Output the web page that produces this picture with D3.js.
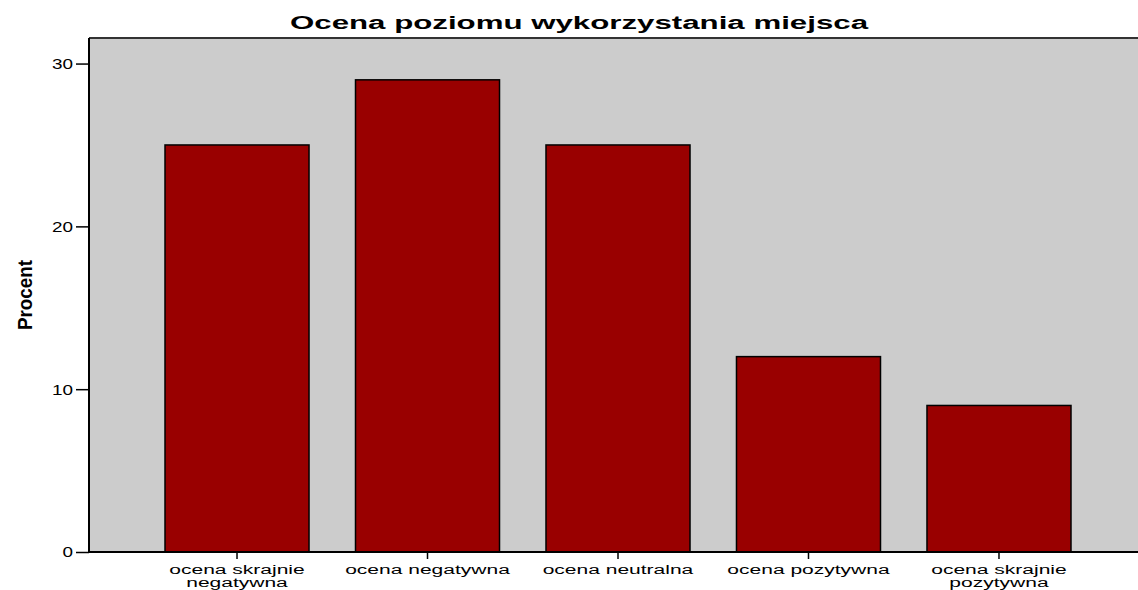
<!DOCTYPE html>
<html>
<head>
<meta charset="utf-8">
<script src="https://cdn.jsdelivr.net/npm/d3@7"></script>
<style>
  body { margin: 0; background: #fff; }
  svg { display: block; }
  text { font-family: "Liberation Sans", Arial, sans-serif; }
</style>
</head>
<body>
<script>
// data
const categories = ["ocena skrajnie negatywna", "ocena negatywna", "ocena neutralna",
                    "ocena pozytywna", "ocena skrajnie pozytywna"];
const values = [25, 29, 25, 12, 9];
const yTicks = [0, 10, 20, 30];
const title = "Ocena poziomu wykorzystania miejsca";
const yTitle = "Procent";

const width = 1138, height = 590;
const plot = {left: 89, right: 1147, top: 38, bottom: 552};

const svg = d3.select("body").append("svg")
  .attr("width", width)
  .attr("height", height);

const x = d3.scaleBand()
  .domain(categories)
  .range([plot.left, plot.right])
  .paddingInner(0.244)
  .paddingOuter(0.399);

const y = d3.scaleLinear()
  .domain([0, 31.57])
  .range([plot.bottom, plot.top]);

// stretch text horizontally, the original fonts are very wide
function stretch(sel, k) {
  sel.each(function() {
    const w = this.getComputedTextLength();
    d3.select(this).attr("textLength", w * k).attr("lengthAdjust", "spacingAndGlyphs");
  });
}

// plot background
svg.append("rect")
  .attr("x", plot.left)
  .attr("y", plot.top)
  .attr("width", plot.right - plot.left)
  .attr("height", plot.bottom - plot.top)
  .attr("fill", "#cccccc");

svg.append("line")
  .attr("x1", plot.left).attr("x2", plot.right)
  .attr("y1", plot.top).attr("y2", plot.top)
  .attr("stroke", "#333")
  .attr("stroke-width", 2);

// bars
svg.append("g").selectAll("rect")
  .data(values)
  .join("rect")
  .attr("x", (d, i) => x(categories[i]))
  .attr("y", d => y(d))
  .attr("width", x.bandwidth())
  .attr("height", d => y(0) - y(d))
  .attr("fill", "#990000")
  .attr("stroke", "#000")
  .attr("stroke-width", 1.5);

// y axis
const yAxis = svg.append("g")
  .attr("transform", "translate(" + plot.left + ",0)")
  .call(d3.axisLeft(y).tickValues(yTicks).tickSize(13).tickSizeOuter(0).tickPadding(3));
yAxis.select(".domain").remove();
yAxis.selectAll(".tick line").attr("stroke", "#000").attr("stroke-width", 1.5);
yAxis.selectAll(".tick text")
  .attr("font-size", 14)
  .attr("fill", "#000")
  .attr("dy", "0.35em")
  .call(stretch, 1.35);

svg.append("line")
  .attr("x1", plot.left).attr("x2", plot.left)
  .attr("y1", plot.top).attr("y2", plot.bottom + 1)
  .attr("stroke", "#000")
  .attr("stroke-width", 2);

// x axis
const xAxis = svg.append("g")
  .attr("transform", "translate(0," + plot.bottom + ")")
  .call(d3.axisBottom(x).tickSize(7).tickSizeOuter(0).tickFormat(""));
xAxis.select(".domain").remove();
xAxis.selectAll(".tick line").attr("stroke", "#000").attr("stroke-width", 1.5);

svg.append("line")
  .attr("x1", plot.left).attr("x2", plot.right)
  .attr("y1", plot.bottom).attr("y2", plot.bottom)
  .attr("stroke", "#000")
  .attr("stroke-width", 2);

// category labels, three-word labels wrap after the second word
categories.forEach(c => {
  const words = c.split(" ");
  const lines = words.length > 2 ? [words.slice(0, 2).join(" "), words.slice(2).join(" ")] : [c];
  lines.forEach((ln, j) => {
    svg.append("text")
      .attr("x", x(c) + x.bandwidth() / 2)
      .attr("y", 574 + j * 13)
      .attr("text-anchor", "middle")
      .attr("font-size", 12)
      .attr("fill", "#000")
      .text(ln)
      .call(stretch, 1.75);
  });
});

// title
svg.append("text")
  .attr("x", 579)
  .attr("y", 29)
  .attr("text-anchor", "middle")
  .attr("font-size", 18)
  .attr("font-weight", "bold")
  .attr("fill", "#000")
  .text(title)
  .attr("textLength", 578)
  .attr("lengthAdjust", "spacingAndGlyphs");

// y axis title
svg.append("text")
  .attr("transform", "translate(32," + ((plot.top + plot.bottom) / 2) + ") rotate(-90)")
  .attr("text-anchor", "middle")
  .attr("font-size", 21)
  .attr("font-weight", "bold")
  .attr("fill", "#000")
  .text(yTitle)
  .attr("textLength", 70)
  .attr("lengthAdjust", "spacingAndGlyphs");
</script>
</body>
</html>
